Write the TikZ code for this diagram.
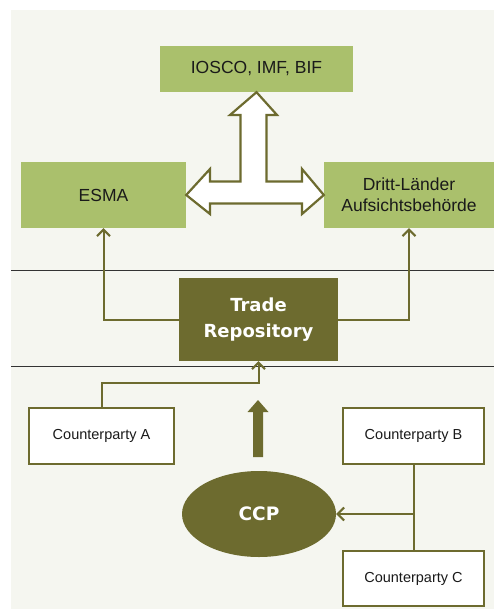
\documentclass[tikz,border=0pt]{standalone}
\usepackage{fontspec}
\setmainfont{Liberation Sans}
\newfontfamily\boldfont{DejaVu Sans}
\usetikzlibrary{arrows.meta,shapes.geometric,calc}
\definecolor{bg}{HTML}{F5F6F0}
\definecolor{lgreen}{HTML}{AAC06C}
\definecolor{olive}{HTML}{6D6B2F}
\definecolor{rule}{HTML}{333333}
\definecolor{txt}{HTML}{1A1A1A}
\tikzset{
  x=1pt, y=-1pt,
  greenbox/.style={rectangle, fill=lgreen, inner sep=0pt, align=center, text=txt,
    font=\fontsize{17.5}{21}\selectfont},
  cpbox/.style={rectangle, draw=olive, line width=2pt, fill=white, inner sep=0pt,
    text=txt, font=\fontsize{14.5}{17}\selectfont},
  trbox/.style={rectangle, fill=olive, inner sep=0pt, align=center, text=white,
    font=\boldfont\bfseries\fontsize{18}{26}\selectfont},
  conn/.style={draw=olive, line width=2pt},
  arr/.style={conn, -{Straight Barb[length=6.5pt,width=13pt,line width=2pt]}},
}
\begin{document}
\begin{tikzpicture}
\useasboundingbox (0,0) rectangle (494,610);
\fill[bg] (11,10) rectangle (494,609);
\draw[rule, line width=1.5pt] (11,270.5) -- (494,270.5);
\draw[rule, line width=1.5pt] (11,366.5) -- (494,366.5);

\node[greenbox, minimum width=193pt, minimum height=46pt] (iosco) at (256.5,69) {IOSCO, IMF, BIF};
\node[greenbox, minimum width=165pt, minimum height=66pt] (esma) at (103.5,195) {ESMA};
\node[greenbox, minimum width=170pt, minimum height=66pt] (dritt) at (409,195) {Dritt-Länder\\Aufsichtsbehörde};
\node[trbox, minimum width=159pt, minimum height=83pt] (tr) at (258.5,319.5) {Trade\\Repository};
\node[cpbox, minimum width=145pt, minimum height=56pt] (cpa) at (101.5,436) {Counterparty A};
\node[cpbox, minimum width=141pt, minimum height=56pt] (cpb) at (413.5,436) {Counterparty B};
\node[cpbox, minimum width=141pt, minimum height=55pt] (cpc) at (413.5,578.5) {Counterparty C};
\node[ellipse, fill=olive, minimum width=154pt, minimum height=86pt, inner sep=0pt, text=white,
  font=\boldfont\bfseries\fontsize{18.5}{22}\selectfont] (ccp) at (259,514) {CCP};

% white double arrow between ESMA, IOSCO and Dritt-Länder
\draw[olive, line width=2.2pt, fill=white, line join=miter]
  (iosco.south) -- (277,115) -- (266.5,115) -- (266.5,181.5) -- (302,181.5) -- (302,169)
  -- (dritt.west) -- (302,214) -- (302,203.5) -- (210,203.5) -- (210,214)
  -- (esma.east) -- (210,169) -- (210,181.5) -- (240.5,181.5) -- (240.5,115) -- (230,115) -- cycle;

% connectors
\draw[arr] (tr.west) -| (esma.south);
\draw[arr] (tr.east) -| (dritt.south);
\draw[arr] (cpa.north) -- ++(0,-24) -| (tr.south);
\draw[conn] (cpb.south) -- (cpc.north);
\draw[arr] (cpb.south |- ccp.east) -- (ccp.east);

% thick arrow
\coordinate (tk) at (258,400);
\fill[olive] (253,457) -- (253,412) -- (247.5,412) -- (tk) -- (268.5,412) -- (263,412) -- (263,457) -- cycle;
\end{tikzpicture}
\end{document}
